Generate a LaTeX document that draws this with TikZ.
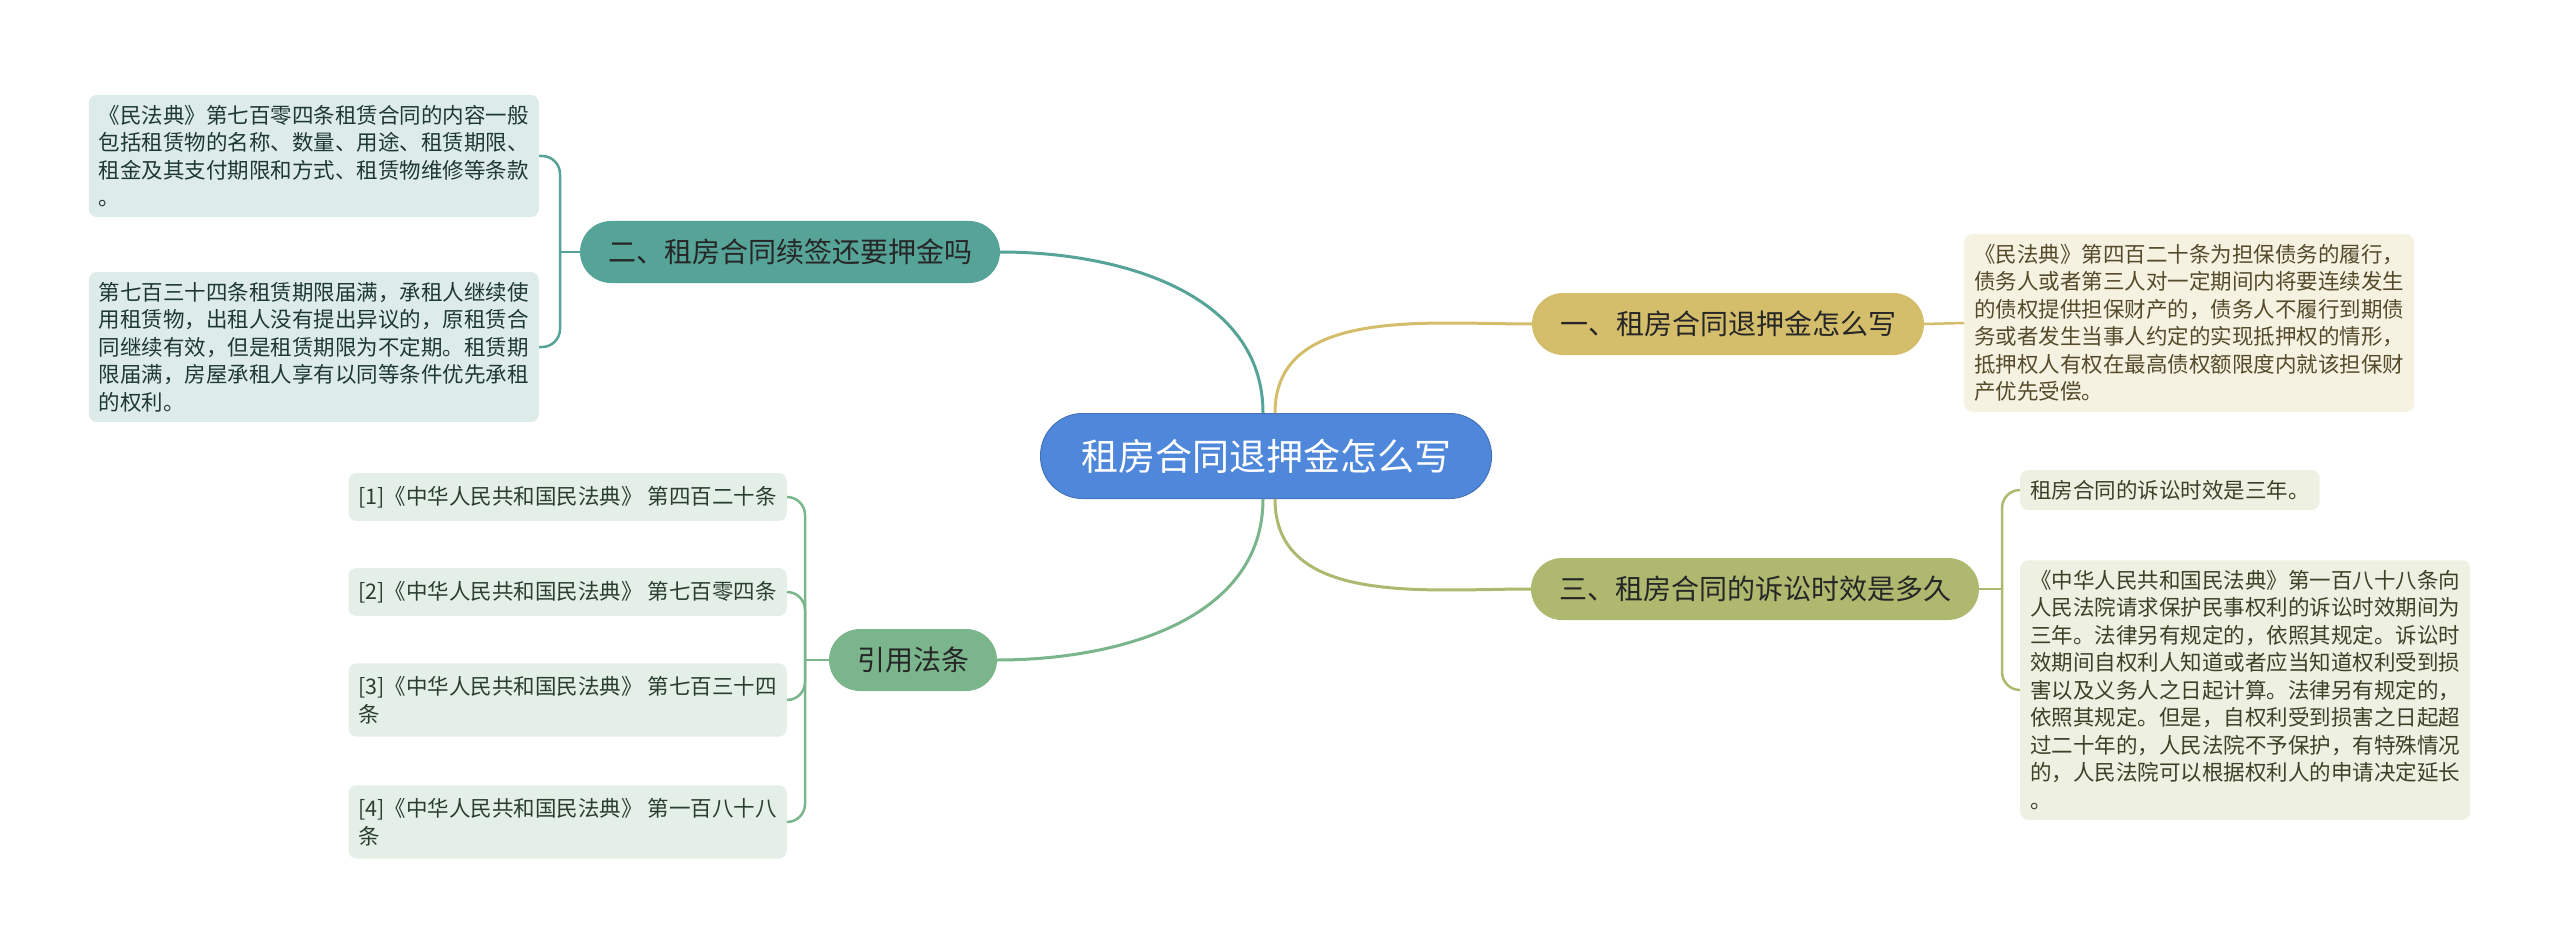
\documentclass[tikz,border=0pt]{standalone}
\usepackage{fontspec}
\setmainfont{Noto Sans CJK SC}

\definecolor{rootblue}{HTML}{4F87DB}
\definecolor{tealc}{HTML}{56A398}
\definecolor{tealleaf}{HTML}{DEECE9}
\definecolor{goldc}{HTML}{D4BD6B}
\definecolor{goldleaf}{HTML}{F6F2E2}
\definecolor{olivec}{HTML}{AEB86F}
\definecolor{oliveleaf}{HTML}{EEF0E1}
\definecolor{greenc}{HTML}{7AB58C}
\definecolor{greenleaf}{HTML}{E3EFE7}

\begin{document}
\begin{tikzpicture}[
    x=1pt, y=-1pt,
    topic/.style={rounded corners=31pt, minimum height=62pt, inner xsep=28pt,
      text=black!85, font=\fontsize{28}{34}\selectfont},
    leaf/.style={rounded corners=8pt, inner xsep=10pt, inner ysep=10pt,
      align=left, font=\fontsize{21.5}{27.5}\selectfont},
    link/.style={line width=3pt},
    twig/.style={line width=2.5pt, rounded corners=18pt}
  ]
  \useasboundingbox (0,0) rectangle (2560,952);

  % Root
  \node[fill=rootblue, draw=rootblue!85!black, line width=1pt, text=white,
    rounded corners=42pt, minimum height=85pt, minimum width=451pt,
    font=\fontsize{37}{44}\selectfont] (root) at (1266,456) {租房合同退押金怎么写};

  % Topics
  \node[topic, fill=goldc] (one) at (1728,324) {一、租房合同退押金怎么写};
  \node[topic, fill=tealc] (two) at (790,252) {二、租房合同续签还要押金吗};
  \node[topic, fill=olivec] (three) at (1755,589) {三、租房合同的诉讼时效是多久};
  \node[topic, fill=greenc] (cite) at (913,660) {引用法条};

  % Leaves of two
  \node[leaf, fill=tealleaf, text=tealc!35!black, anchor=east] (twoA) at (539,156)
    {《民法典》第七百零四条租赁合同的内容一般\\
     包括租赁物的名称、数量、用途、租赁期限、\\
     租金及其支付期限和方式、租赁物维修等条款\\
     。};
  \node[leaf, fill=tealleaf, text=tealc!35!black, anchor=east] (twoB) at (539,347)
    {第七百三十四条租赁期限届满，承租人继续使\\
     用租赁物，出租人没有提出异议的，原租赁合\\
     同继续有效，但是租赁期限为不定期。租赁期\\
     限届满，房屋承租人享有以同等条件优先承租\\
     的权利。};

  % Leaf of one
  \node[leaf, fill=goldleaf, text=goldc!40!black, anchor=west] (oneA) at (1964,323)
    {《民法典》第四百二十条为担保债务的履行，\\
     债务人或者第三人对一定期间内将要连续发生\\
     的债权提供担保财产的，债务人不履行到期债\\
     务或者发生当事人约定的实现抵押权的情形，\\
     抵押权人有权在最高债权额限度内就该担保财\\
     产优先受偿。};

  % Leaves of three
  \node[leaf, fill=oliveleaf, text=olivec!35!black, anchor=west] (threeA) at (2020,490)
    {租房合同的诉讼时效是三年。};
  \node[leaf, fill=oliveleaf, text=olivec!35!black, anchor=west] (threeB) at (2020,690)
    {《中华人民共和国民法典》第一百八十八条向\\
     人民法院请求保护民事权利的诉讼时效期间为\\
     三年。法律另有规定的，依照其规定。诉讼时\\
     效期间自权利人知道或者应当知道权利受到损\\
     害以及义务人之日起计算。法律另有规定的，\\
     依照其规定。但是，自权利受到损害之日起超\\
     过二十年的，人民法院不予保护，有特殊情况\\
     的，人民法院可以根据权利人的申请决定延长\\
     。};

  % Leaves of cite
  \node[leaf, inner ysep=13pt, fill=greenleaf, text=greenc!35!black, anchor=east] (citeA) at (787,497)
    {[1]《中华人民共和国民法典》 第四百二十条};
  \node[leaf, inner ysep=13pt, fill=greenleaf, text=greenc!35!black, anchor=east] (citeB) at (787,592)
    {[2]《中华人民共和国民法典》 第七百零四条};
  \node[leaf, inner ysep=13pt, fill=greenleaf, text=greenc!35!black, anchor=east] (citeC) at (787,700)
    {[3]《中华人民共和国民法典》 第七百三十四\\条};
  \node[leaf, inner ysep=13pt, fill=greenleaf, text=greenc!35!black, anchor=east] (citeD) at (787,822)
    {[4]《中华人民共和国民法典》 第一百八十八\\条};

  % Junctions
  \coordinate (twoJ) at (560,252);
  \coordinate (threeJ) at (2002,589);
  \coordinate (citeJ) at (805,660);

  % Links from root
  \draw[link, tealc] ([xshift=-3pt]root.north) .. controls +(0,-120) and +(120,0) .. (two.east);
  \draw[link, goldc] ([xshift=9pt]root.north) .. controls +(0,-106) and +(-106,0) .. (one.west);
  \draw[link, olivec] ([xshift=9pt]root.south) .. controls +(0,107) and +(-107,0) .. (three.west);
  \draw[link, greenc] ([xshift=-3pt]root.south) .. controls +(0,121) and +(121,0) .. (cite.east);

  % Twigs
  \draw[twig, tealc] (two.west) -- (twoJ);
  \draw[twig, tealc] (twoJ) |- (twoA.east);
  \draw[twig, tealc] (twoJ) |- (twoB.east);
  \draw[twig, goldc] (one.east) -- (oneA.west);
  \draw[twig, olivec] (three.east) -- (threeJ);
  \draw[twig, olivec] (threeJ) |- (threeA.west);
  \draw[twig, olivec] (threeJ) |- (threeB.west);
  \draw[twig, greenc] (cite.west) -- (citeJ);
  \draw[twig, greenc] (citeJ) |- (citeA.east);
  \draw[twig, greenc] (citeJ) |- (citeB.east);
  \draw[twig, greenc] (citeJ) |- (citeC.east);
  \draw[twig, greenc] (citeJ) |- (citeD.east);
\end{tikzpicture}
\end{document}
